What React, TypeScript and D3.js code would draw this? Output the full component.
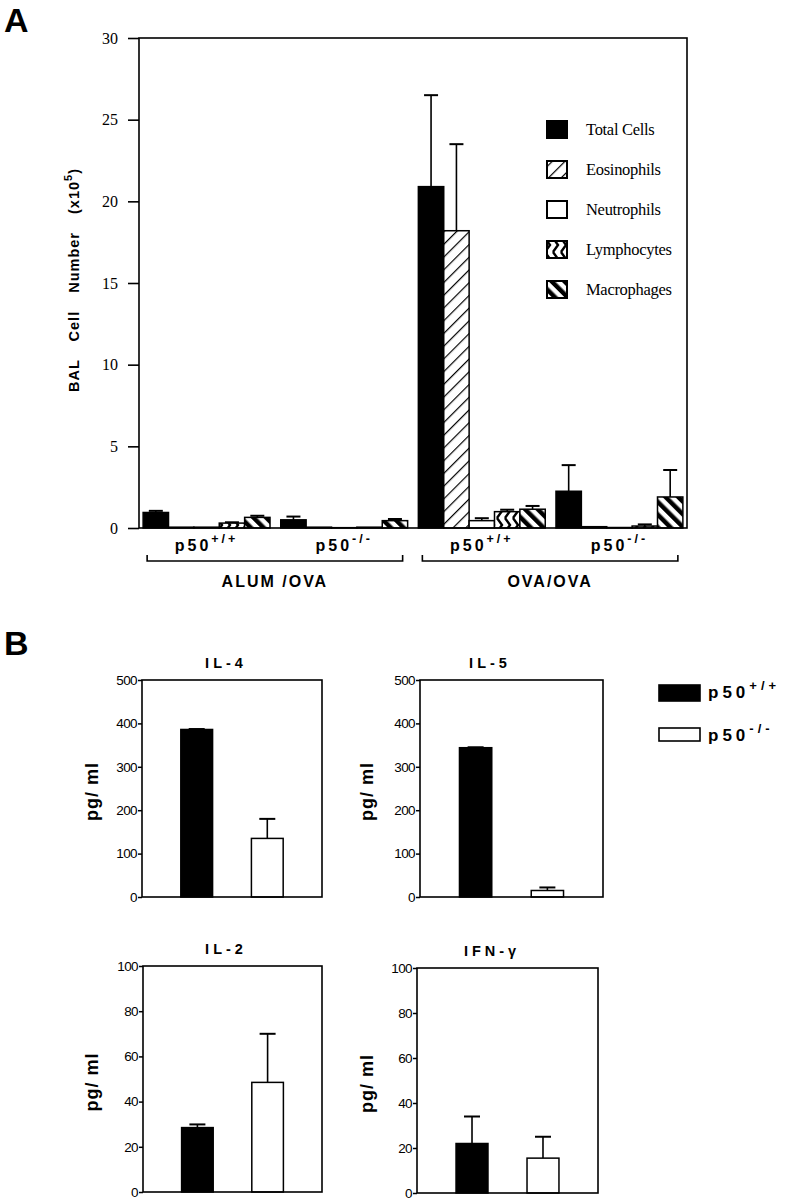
import React, { useEffect, useRef } from 'react';
import * as d3 from 'd3';

// Panel A: BAL cell counts (x10^5)
const cellTypes = ['Total Cells', 'Eosinophils', 'Neutrophils', 'Lymphocytes', 'Macrophages'];
const groupKeys = ['alumWt', 'alumKo', 'ovaWt', 'ovaKo'];
const groupGenotypes = ['+/+', '-/-', '+/+', '-/-'];
const treatments = ['ALUM /OVA', 'OVA/OVA'];
const totalCells = [0.95, 0.5, 20.9, 2.25];
const totalCellsErr = [0.1, 0.2, 5.6, 1.6];
const eosinophils = [0.05, 0.05, 18.2, 0.08];
const eosinophilsErr = [0, 0, 5.3, 0];
const neutrophils = [0.05, 0.02, 0.45, 0.03];
const neutrophilsErr = [0, 0, 0.15, 0];
const lymphocytes = [0.3, 0.05, 1.0, 0.12];
const lymphocytesErr = [0.05, 0, 0.12, 0.1];
const macrophages = [0.65, 0.45, 1.15, 1.9];
const macrophagesErr = [0.1, 0.1, 0.2, 1.65];
const balTicks = [0, 5, 10, 15, 20, 25, 30];

// Panel B: cytokines (pg/ml)
const cytokines = ['IL-4', 'IL-5', 'IL-2', 'IFN-γ'];
const cytokineMax = [500, 500, 100, 100];
const wtValues = [386, 344, 28.5, 22];
const wtErrors = [1, 1, 1.4, 12];
const koValues = [135, 15, 48.5, 15.5];
const koErrors = [45, 7, 21.5, 9.5];
const genotypes = ['+/+', '-/-'];

const SANS = 'Liberation Sans, Arial, sans-serif';
const SERIF = 'Liberation Serif, Times New Roman, serif';

const App = () => {
    const svgRef = useRef<SVGSVGElement>(null);

    useEffect(() => {
        const svg = d3.select(svgRef.current);
        svg.selectAll('*').remove();

        const defs = svg.append('defs');
        defs.append('pattern').attr('id', 'eos').attr('patternUnits', 'userSpaceOnUse')
            .attr('width', 9).attr('height', 9).attr('patternTransform', 'rotate(45)')
            .call(p => {
                p.append('rect').attr('width', 9).attr('height', 9).attr('fill', '#fff');
                p.append('rect').attr('width', 1.2).attr('height', 9).attr('fill', '#000');
            });
        defs.append('pattern').attr('id', 'lym').attr('patternUnits', 'userSpaceOnUse')
            .attr('width', 8).attr('height', 14)
            .call(p => {
                p.append('rect').attr('width', 8).attr('height', 14).attr('fill', '#fff');
                p.append('path').attr('d', 'M1,0 L6,7 L1,14').attr('fill', 'none')
                    .attr('stroke', '#000').attr('stroke-width', 2.4);
            });
        defs.append('pattern').attr('id', 'mac').attr('patternUnits', 'userSpaceOnUse')
            .attr('width', 9).attr('height', 9).attr('patternTransform', 'rotate(-45)')
            .call(p => {
                p.append('rect').attr('width', 9).attr('height', 9).attr('fill', '#fff');
                p.append('rect').attr('width', 4.5).attr('height', 9).attr('fill', '#000');
            });

        const fills = ['#000', 'url(#eos)', '#fff', 'url(#lym)', 'url(#mac)'];
        const means = [totalCells, eosinophils, neutrophils, lymphocytes, macrophages];
        const errs = [totalCellsErr, eosinophilsErr, neutrophilsErr, lymphocytesErr, macrophagesErr];

        // ---------- Panel A ----------
        svg.append('text').attr('x', 4).attr('y', 32).attr('font-family', SANS)
            .attr('font-weight', 'bold').attr('font-size', 34).text('A');

        const left = 139, right = 687, top = 38, bottom = 528;
        const y = d3.scaleLinear().domain([0, 30]).range([bottom, top]);
        const xGroup = d3.scaleBand().domain(groupKeys).range([left, right])
            .paddingInner(0.078).paddingOuter(0.03);
        const xCell = d3.scaleBand().domain(cellTypes).range([0, xGroup.bandwidth()]);

        const gA = svg.append('g');
        groupKeys.forEach((g, gi) => {
            cellTypes.forEach((c, ci) => {
                const x0 = xGroup(g)! + xCell(c)!;
                const v = means[ci][gi];
                const e = errs[ci][gi];
                if (e > 0) {
                    const cx = x0 + xCell.bandwidth() / 2;
                    gA.append('line').attr('x1', cx).attr('x2', cx)
                        .attr('y1', y(v)).attr('y2', y(v + e))
                        .attr('stroke', '#000').attr('stroke-width', 1.6);
                    gA.append('line').attr('x1', cx - 7).attr('x2', cx + 7)
                        .attr('y1', y(v + e)).attr('y2', y(v + e))
                        .attr('stroke', '#000').attr('stroke-width', 2);
                }
                gA.append('rect').attr('x', x0).attr('y', y(v))
                    .attr('width', xCell.bandwidth()).attr('height', y(0) - y(v))
                    .attr('fill', fills[ci]).attr('stroke', '#000').attr('stroke-width', 1.5);
            });
        });

        gA.append('rect').attr('x', left).attr('y', top).attr('width', right - left)
            .attr('height', bottom - top).attr('fill', 'none')
            .attr('stroke', '#000').attr('stroke-width', 1.6);

        const axA = gA.append('g').attr('transform', `translate(${left},0)`)
            .call(d3.axisLeft(y).tickValues(balTicks).tickSize(11).tickPadding(10));
        axA.select('.domain').remove();
        axA.selectAll('line').attr('stroke-width', 1.6);
        axA.selectAll('text').attr('font-family', SERIF).attr('font-size', 16).attr('fill', '#000');

        const yl = gA.append('text').attr('transform', `translate(79,${(top + bottom) / 2 - 3}) rotate(-90)`)
            .attr('text-anchor', 'middle').attr('font-family', SANS).attr('font-weight', 'bold')
            .attr('font-size', 14.5).style('word-spacing', '13px').style('letter-spacing', '1px');
        yl.append('tspan').text('BAL Cell Number (x10');
        yl.append('tspan').attr('dy', -7).attr('font-size', 11).text('5');
        yl.append('tspan').attr('dy', 7).text(')');

        // genotype labels
        groupKeys.forEach((g, gi) => {
            const t = gA.append('text').attr('x', xGroup(g)! + xGroup.bandwidth() / 2).attr('y', 551)
                .attr('text-anchor', 'middle').attr('font-family', SANS).attr('font-weight', 'bold')
                .attr('font-size', 16).style('letter-spacing', '3px');
            t.append('tspan').text('p50');
            t.append('tspan').attr('dy', -8).attr('font-size', 12.5).text(groupGenotypes[gi]);
        });

        // treatment brackets
        treatments.forEach((tr, ti) => {
            const x1 = xGroup(groupKeys[ti * 2])! + 4;
            const x2 = xGroup(groupKeys[ti * 2 + 1])! + xGroup.bandwidth() - 5;
            gA.append('path').attr('d', `M${x1},555 V561 H${x2} V555`)
                .attr('fill', 'none').attr('stroke', '#000').attr('stroke-width', 1.6);
            gA.append('text').attr('x', (x1 + x2) / 2).attr('y', 587).attr('text-anchor', 'middle')
                .attr('font-family', SANS).attr('font-weight', 'bold').attr('font-size', 16)
                .style('letter-spacing', '2px').text(tr);
        });

        // legend A
        cellTypes.forEach((c, ci) => {
            const ly = 121 + ci * 40;
            gA.append('rect').attr('x', 547).attr('y', ly).attr('width', 20).attr('height', 17)
                .attr('fill', fills[ci]).attr('stroke', '#000').attr('stroke-width', 2);
            gA.append('text').attr('x', 586).attr('y', ly + 14).attr('font-family', SERIF)
                .attr('font-size', 16.5).style('letter-spacing', '-0.3px').text(c);
        });

        // ---------- Panel B ----------
        svg.append('text').attr('x', 4).attr('y', 655).attr('font-family', SANS)
            .attr('font-weight', 'bold').attr('font-size', 34).text('B');

        const boxes = [
            { x: 142, y: 680, w: 180, h: 217, tx: 226, lx: 98 },
            { x: 420, y: 680, w: 183, h: 217, tx: 490, lx: 373 },
            { x: 143, y: 966, w: 179, h: 226, tx: 226, lx: 98 },
            { x: 417, y: 968, w: 181, h: 225, tx: 492, lx: 373 },
        ];

        cytokines.forEach((name, i) => {
            const b = boxes[i];
            const g = svg.append('g');
            const yb = d3.scaleLinear().domain([0, cytokineMax[i]]).range([b.y + b.h, b.y]);
            const xb = d3.scaleBand().domain(genotypes).range([b.x, b.x + b.w])
                .paddingInner(0.55).paddingOuter(0.55);
            const vals = [wtValues[i], koValues[i]];
            const es = [wtErrors[i], koErrors[i]];
            genotypes.forEach((gt, k) => {
                const cx = xb(gt)! + xb.bandwidth() / 2;
                g.append('line').attr('x1', cx).attr('x2', cx).attr('y1', yb(vals[k]))
                    .attr('y2', yb(vals[k] + es[k])).attr('stroke', '#000').attr('stroke-width', 1.6);
                g.append('line').attr('x1', cx - 8).attr('x2', cx + 8)
                    .attr('y1', yb(vals[k] + es[k])).attr('y2', yb(vals[k] + es[k]))
                    .attr('stroke', '#000').attr('stroke-width', 2);
                g.append('rect').attr('x', xb(gt)!).attr('y', yb(vals[k]))
                    .attr('width', xb.bandwidth()).attr('height', yb(0) - yb(vals[k]))
                    .attr('fill', k === 0 ? '#000' : '#fff').attr('stroke', '#000').attr('stroke-width', 1.5);
            });
            g.append('rect').attr('x', b.x).attr('y', b.y).attr('width', b.w).attr('height', b.h)
                .attr('fill', 'none').attr('stroke', '#000').attr('stroke-width', 1.6);
            const ax = g.append('g').attr('transform', `translate(${b.x},0)`)
                .call(d3.axisLeft(yb).ticks(5).tickSize(4).tickPadding(1));
            ax.select('.domain').remove();
            ax.selectAll('line').attr('stroke-width', 1.5);
            ax.selectAll('text').attr('font-family', SANS).attr('font-size', 13.5).attr('fill', '#000')
                .style('letter-spacing', '-0.6px');
            g.append('text').attr('x', b.tx).attr('y', b.y - 12).attr('text-anchor', 'middle')
                .attr('font-family', SANS).attr('font-weight', 'bold').attr('font-size', 14.5)
                .style('letter-spacing', '4px').text(name);
            g.append('text').attr('transform', `translate(${b.lx},${b.y + b.h / 2 + 3}) rotate(-90)`)
                .attr('text-anchor', 'middle').attr('font-family', SANS).attr('font-weight', 'bold')
                .attr('font-size', 18).style('letter-spacing', '1px').text('pg/ ml');
        });

        // legend B
        genotypes.forEach((gt, k) => {
            const ly = k === 0 ? 685 : 728;
            svg.append('rect').attr('x', 659).attr('y', ly).attr('width', 41).attr('height', k === 0 ? 16 : 13)
                .attr('fill', k === 0 ? '#000' : '#fff').attr('stroke', '#000').attr('stroke-width', 1.6);
            const t = svg.append('text').attr('x', 708).attr('y', ly + 13).attr('font-family', SANS)
                .attr('font-weight', 'bold').attr('font-size', 17).style('letter-spacing', '4px');
            t.append('tspan').text('p50');
            t.append('tspan').attr('dy', -8).attr('font-size', 13).text(gt);
        });
    }, []);

    return (
        <svg ref={svgRef} width={788} height={1200}
            style={{ position: 'absolute', left: 0, top: 0, background: '#fff' }} />
    );
};

export default App;
